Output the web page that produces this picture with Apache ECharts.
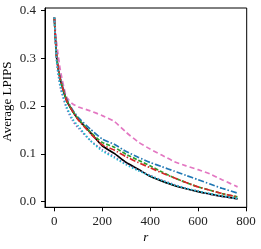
<!DOCTYPE html>
<html><head><meta charset="utf-8">
<script src="https://cdn.jsdelivr.net/npm/echarts@6/dist/echarts.min.js"></script>
<style>html,body{margin:0;padding:0;background:#fff}#c{width:261px;height:249px}</style>
</head><body><div id="c"></div>
<script>
const r = [0, 10, 25, 50, 75, 100, 150, 200, 250, 300, 350, 400, 450, 500, 550, 600, 650, 700, 765];
const blackVals  = [0.385,0.300,0.255,0.213,0.190,0.172,0.145,0.117,0.101,0.082,0.068,0.053,0.043,0.034,0.027,0.021,0.016,0.011,0.006];
const cyanVals   = [0.385,0.292,0.242,0.200,0.174,0.158,0.128,0.106,0.092,0.077,0.065,0.054,0.044,0.035,0.028,0.022,0.017,0.012,0.007];
const purpleVals = [0.385,0.290,0.238,0.196,0.170,0.154,0.128,0.109,0.094,0.079,0.066,0.055,0.045,0.036,0.028,0.022,0.016,0.011,0.006];
const greenVals  = [0.385,0.300,0.256,0.214,0.191,0.173,0.146,0.124,0.114,0.099,0.087,0.075,0.062,0.050,0.040,0.031,0.024,0.017,0.010];
const redVals    = [0.385,0.300,0.255,0.213,0.190,0.171,0.143,0.119,0.108,0.094,0.082,0.071,0.060,0.050,0.040,0.031,0.024,0.017,0.010];
const blueVals   = [0.385,0.302,0.258,0.216,0.193,0.176,0.152,0.131,0.120,0.105,0.093,0.082,0.073,0.064,0.055,0.046,0.037,0.028,0.018];
const pinkVals   = [0.385,0.330,0.275,0.220,0.205,0.198,0.190,0.180,0.168,0.145,0.125,0.110,0.097,0.084,0.075,0.067,0.058,0.046,0.031];
const xTicks = [0, 200, 400, 600, 800];
const yTicks = [0.0, 0.1, 0.2, 0.3, 0.4];
const xLabel = 'r';
const yLabel = 'Average LPIPS';

const font = '"Liberation Serif", "DejaVu Serif", serif';
function mk(vals, color, dash, z){
  return {type:'line', data: r.map((x,i)=>[x, vals[i]]), showSymbol:false, smooth:0.2,
    lineStyle:{color:color, width:1.7, type:dash}, z:z, silent:true, animation:false};
}
const chart = echarts.init(document.getElementById('c'), null, {renderer:'canvas'});
chart.setOption({
  animation:false,
  grid:{left:45, right:14.3, top:8, bottom:41.7, containLabel:false, outerBoundsMode:'none',
    show:true, borderColor:'#000', borderWidth:1, backgroundColor:'transparent'},
  xAxis:{type:'value', min:-39, max:803, name:xLabel, nameLocation:'middle', nameGap:24, nameMoveOverlap:false,
    nameTextStyle:{fontFamily:font, fontStyle:'italic', fontSize:13, color:'#000'},
    splitLine:{show:false}, axisLine:{show:true, onZero:false, lineStyle:{color:'#000', width:1}},
    axisTick:{show:true, length:4, lineStyle:{color:'#000'}, customValues:xTicks},
    axisLabel:{fontFamily:font, fontSize:13, color:'#222', margin:8, customValues:xTicks}},
  yAxis:{type:'value', min:-0.0117, max:0.405, name:yLabel, nameLocation:'middle', nameGap:31, nameMoveOverlap:false,
    nameTextStyle:{fontFamily:font, fontSize:13, color:'#000', padding:[0,0,0,12]},
    splitLine:{show:false}, axisLine:{show:true, onZero:false, lineStyle:{color:'#000', width:1}},
    axisTick:{show:true, length:4, lineStyle:{color:'#000'}, customValues:yTicks},
    axisLabel:{fontFamily:font, fontSize:13, color:'#222', margin:9, customValues:yTicks, formatter:v=>v.toFixed(1)}},
  series:[
    mk(blackVals,'#000000','solid',2),
    mk(pinkVals,'#e377c2',[5,3],3),
    mk(blueVals,'#1f77b4',[6,2,1.5,2],4),
    mk(greenVals,'#2ca02c',[4,2],5),
    mk(redVals,'#d62728',[6,2,1.5,2],6),
    mk(purpleVals,'#9467bd',[1.5,2],7),
    mk(cyanVals,'#17becf',[1.5,2],8)
  ]
});
</script></body></html>
